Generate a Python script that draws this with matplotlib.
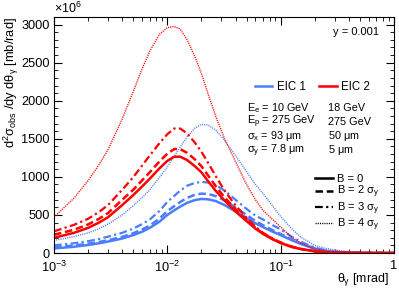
import numpy as np
import matplotlib
matplotlib.use("Agg")
import matplotlib.pyplot as plt
from matplotlib.lines import Line2D

plt.rcParams['font.family'] = ['Liberation Sans', 'DejaVu Sans']
plt.rcParams['mathtext.fontset'] = 'custom'
plt.rcParams['mathtext.rm'] = 'Liberation Sans'
plt.rcParams['mathtext.it'] = 'Liberation Sans'
plt.rcParams['mathtext.sf'] = 'Liberation Sans'

BLUE = "#4a7dff"
RED = "#ff0000"

# theta_gamma [mrad]
theta = [1e-3, 1.5e-3, 2e-3, 2.5e-3, 3e-3, 4e-3, 5e-3, 6e-3, 7e-3, 8.5e-3, 1e-2, 1.15e-2,
         1.3e-2, 1.5e-2, 1.75e-2, 2e-2, 2.3e-2, 2.7e-2, 3.2e-2, 4e-2, 5e-2, 6e-2, 7e-2,
         8.5e-2, 0.1, 0.125, 0.15, 0.2, 0.25, 0.3, 0.4, 0.5, 0.7, 1.0]

# d2sigma/dy dtheta [x1e6 mb/rad], EIC 1 (blue)
eic1_b0 = [60, 82, 105, 128, 150, 190, 235, 280, 330, 410, 500, 560, 610, 660, 695, 710, 705,
           680, 630, 545, 460, 390, 340, 280, 235, 170, 120, 55, 28, 14, 5, 2, 0.5, 0.2]
eic1_b2 = [75, 98, 122, 145, 168, 212, 260, 310, 360, 450, 550, 615, 670, 725, 765, 780, 775,
           745, 690, 595, 500, 420, 365, 300, 250, 180, 128, 60, 30, 15, 5, 2, 0.5, 0.2]
eic1_b3 = [100, 128, 155, 185, 215, 265, 320, 380, 440, 550, 670, 750, 820, 885, 920, 935, 925,
           890, 820, 700, 580, 490, 440, 365, 310, 215, 150, 70, 35, 18, 6, 2, 0.6, 0.2]
eic1_b4 = [165, 215, 265, 320, 380, 500, 620, 730, 830, 990, 1130, 1270, 1390, 1530, 1640, 1690, 1680,
           1610, 1480, 1280, 1070, 900, 780, 620, 480, 320, 210, 100, 60, 40, 18, 8, 2, 0.5]

# EIC 2 (red)
eic2_b0 = [200, 265, 330, 400, 470, 630, 760, 875, 975, 1110, 1210, 1265, 1265, 1220, 1140, 1060, 940,
           810, 690, 545, 420, 320, 250, 180, 130, 80, 52, 22, 11, 6, 2, 1, 0.3, 0.1]
eic2_b2 = [240, 305, 375, 450, 525, 700, 830, 955, 1060, 1200, 1305, 1365, 1365, 1315, 1230, 1140, 1015,
           870, 730, 575, 435, 330, 255, 185, 135, 83, 54, 23, 11, 6, 2, 1, 0.3, 0.1]
eic2_b3 = [285, 370, 450, 540, 630, 830, 995, 1150, 1280, 1440, 1560, 1635, 1635, 1570, 1450, 1330, 1180,
           1000, 820, 625, 465, 345, 265, 190, 140, 86, 56, 24, 12, 6, 2, 1, 0.3, 0.1]
eic2_b4 = [470, 720, 950, 1160, 1360, 1760, 2120, 2420, 2650, 2870, 2960, 2975, 2940, 2800, 2580, 2360, 2080,
           1780, 1500, 1200, 900, 700, 560, 440, 340, 210, 130, 55, 25, 12, 4, 2, 0.5, 0.2]

styles = [("-", 1.8), ((0, (3.0, 1.5)), 1.8), ((0, (3.5, 1.5, 1.0, 1.5)), 1.6), ((0, (0.8, 0.8)), 1.0)]
b_labels = [r"B = 0", r"B = 2 $\sigma_{y}$", r"B = 3 $\sigma_{y}$", r"B = 4 $\sigma_{y}$"]

fig = plt.figure(figsize=(3.99, 2.88), dpi=100)
ax = fig.add_axes([0.1353, 0.1215, 0.852, 0.8195])

for ser, (ls, lw) in zip([eic1_b0, eic1_b2, eic1_b3, eic1_b4], styles):
    ax.plot(theta, ser, color=BLUE, ls=ls, lw=lw)
for ser, (ls, lw) in zip([eic2_b0, eic2_b2, eic2_b3, eic2_b4], styles):
    ax.plot(theta, ser, color=RED, ls=ls, lw=lw)

ax.set_xscale("log")
ax.set_xlim(1e-3, 1)
ax.set_ylim(0, 3100)
ax.set_yticks([0, 500, 1000, 1500, 2000, 2500, 3000])
ax.set_yticks(np.arange(0, 3101, 100), minor=True)
ax.set_xticks([1e-3, 1e-2, 1e-1, 1])
ax.set_xticklabels([r"$10^{-3}$", r"$10^{-2}$", r"$10^{-1}$", "1"])
ax.tick_params(which="both", direction="in", top=True, right=True, labelsize=9.2)
ax.tick_params(which="major", length=6)
ax.tick_params(which="minor", length=3)
ax.tick_params(axis="x", pad=5)
ax.tick_params(axis="y", pad=3)

ax.set_ylabel(r"d$^{2}\sigma_{\rm obs}$ /dy d$\theta_{\gamma}$ [mb/rad]", fontsize=9.3, loc="top")
ax.yaxis.set_label_coords(-0.098, 1.0)
ax.text(0.985, -0.075, r"$\theta_{\gamma}$ [mrad]", transform=ax.transAxes, ha="right", va="top", fontsize=9)
ax.text(0.0, 1.005, r"$\times10^{6}$", transform=ax.transAxes, ha="left", va="bottom", fontsize=9)
ax.text(0.955, 0.935, "y = 0.001", transform=ax.transAxes, ha="right", va="center", fontsize=8)

# EIC legend
leg1 = ax.legend([Line2D([], [], color=BLUE, lw=1.8), Line2D([], [], color=RED, lw=1.8)],
                 ["EIC 1", "EIC 2"], ncol=2, loc="center left", bbox_to_anchor=(0.56, 0.705),
                 frameon=False, fontsize=8.3, handlelength=1.5, handletextpad=0.4, columnspacing=1.2)
ax.add_artist(leg1)

rows = [(r"E$_{e}$ = 10 GeV", "18 GeV"),
        (r"E$_{p}$ = 275 GeV", "275 GeV"),
        (r"$\sigma_{x}$ = 93 $\mu$m", r"50 $\mu$m"),
        (r"$\sigma_{y}$ = 7.8 $\mu$m", r"5 $\mu$m")]
for i, (c1, c2) in enumerate(rows):
    yy = 0.615 - i * 0.06
    ax.text(0.568, yy, c1, transform=ax.transAxes, ha="left", va="center", fontsize=7.8)
    ax.text(0.806, yy, c2, transform=ax.transAxes, ha="left", va="center", fontsize=7.8)

handles = [Line2D([], [], color="black", ls=ls, lw=lw) for ls, lw in styles]
ax.legend(handles, b_labels, loc="center left", bbox_to_anchor=(0.745, 0.21), frameon=False,
          fontsize=8, handlelength=1.6, handletextpad=0.4, labelspacing=0.0, borderpad=0.2)

fig.savefig("out.png", dpi=100)
